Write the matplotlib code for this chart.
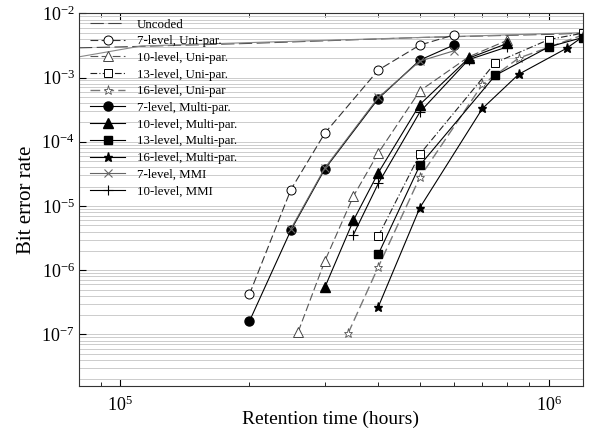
import matplotlib
matplotlib.use("Agg")
import matplotlib.pyplot as plt
from matplotlib.ticker import LogLocator, NullFormatter

plt.rcParams["font.family"] = ["Liberation Serif", "DejaVu Serif"]
plt.rcParams["mathtext.fontset"] = "stix"

# Uncoded reference (two traces at the top)
unc_x = [8e4, 1e5, 2e5, 5e5, 1e6, 1.2e6]
unc_y = [2.9e-3, 3.0e-3, 3.4e-3, 4.2e-3, 4.7e-3, 4.9e-3]
unc2_x = [8e4, 1.12e5, 2e5, 5e5, 1.2e6]
unc2_y = [2.1e-3, 3.1e-3, 3.5e-3, 4.2e-3, 5.0e-3]

# Uni-parameter
u7_x = [2e5, 2.5e5, 3e5, 4e5, 5e5, 6e5]
u7_y = [4.2e-7, 1.8e-5, 1.36e-4, 1.31e-3, 3.2e-3, 4.6e-3]
u10_x = [2.6e5, 3e5, 3.5e5, 4e5, 5e5, 6.5e5, 8e5]
u10_y = [1.1e-7, 1.39e-6, 1.43e-5, 6.7e-5, 6.2e-4, 2.1e-3, 3.8e-3]
u13_x = [4e5, 5e5, 7.5e5, 1e6, 1.2e6]
u13_y = [3.4e-6, 6.4e-5, 1.7e-3, 3.9e-3, 4.9e-3]
u16_x = [3.4e5, 4e5, 5e5, 7e5, 8.5e5, 1.2e6]
u16_y = [1.04e-7, 1.13e-6, 2.8e-5, 7.8e-4, 2.0e-3, 4.6e-3]

# Multi-parameter
m7_x = [2e5, 2.5e5, 3e5, 4e5, 5e5, 6e5]
m7_y = [1.6e-7, 4.2e-6, 3.76e-5, 4.7e-4, 1.87e-3, 3.2e-3]
m10_x = [3e5, 3.5e5, 4e5, 5e5, 6.5e5, 8e5]
m10_y = [5.4e-7, 6.0e-6, 3.3e-5, 3.8e-4, 2.0e-3, 3.4e-3]
m13_x = [4e5, 5e5, 7.5e5, 1e6, 1.2e6]
m13_y = [1.78e-6, 4.3e-5, 1.08e-3, 3.0e-3, 4.2e-3]
m16_x = [4e5, 5e5, 7e5, 8.5e5, 1.1e6, 1.2e6]
m16_y = [2.7e-7, 9.4e-6, 3.3e-4, 1.12e-3, 2.85e-3, 4.3e-3]

# MMI
mmi7_x = [2.5e5, 3e5, 4e5, 5e5, 6e5]
mmi7_y = [4.4e-6, 3.9e-5, 4.9e-4, 1.8e-3, 2.6e-3]
mmi10_x = [3.5e5, 4e5, 5e5, 6.5e5, 8e5]
mmi10_y = [3.6e-6, 2.25e-5, 2.9e-4, 1.9e-3, 3.0e-3]

fig = plt.figure(figsize=(5.89, 4.32), dpi=100)
ax = fig.add_axes([0.134, 0.1074, 0.8553, 0.8618])

lw = 0.8
dash = (0, (7, 3))
ax.plot(unc_x, unc_y, color="#444444", lw=lw, ls=(0, (12, 4)), label="Uncoded")
ax.plot(unc2_x, unc2_y, color="#888888", lw=lw)

ax.plot(u7_x, u7_y, color="#333333", lw=lw, ls=dash, marker="o", ms=6.5,
        mfc="white", mec="black", mew=0.7, label="7-level, Uni-par.")
ax.plot(u10_x, u10_y, color="#555555", lw=lw, ls=dash, marker="^", ms=6.5,
        mfc="white", mec="#444444", mew=0.7, label="10-level, Uni-par.")
ax.plot(u13_x, u13_y, color="#222222", lw=lw, ls=(0, (6, 2, 1, 2)), marker="s", ms=5.5,
        mfc="white", mec="black", mew=0.7, label="13-level, Uni-par.")
ax.plot(u16_x, u16_y, color="#777777", lw=1.0, ls=dash, marker="*", ms=6.5,
        mfc="white", mec="#555555", mew=0.6, label="16-level, Uni-par")

ax.plot(m7_x, m7_y, color="black", lw=lw, marker="o", ms=6.5, mfc="black",
        mec="black", label="7-level, Multi-par.")
ax.plot(m10_x, m10_y, color="black", lw=lw, marker="^", ms=6.5, mfc="black",
        mec="black", label="10-level, Multi-par.")
ax.plot(m13_x, m13_y, color="black", lw=lw, marker="s", ms=5.5, mfc="black",
        mec="black", label="13-level, Multi-par.")
ax.plot(m16_x, m16_y, color="black", lw=lw, marker="*", ms=6.5, mfc="black",
        mec="black", label="16-level, Multi-par.")

ax.plot(mmi7_x, mmi7_y, color="#666666", lw=lw, marker="x", ms=6,
        mew=0.8, label="7-level, MMI")
ax.plot(mmi10_x, mmi10_y, color="black", lw=lw, marker="+", ms=6.5,
        mew=0.8, label="10-level, MMI")

ax.set_xscale("log")
ax.set_yscale("log")
ax.set_xlim(8e4, 1.2e6)
ax.set_ylim(1.6e-8, 1e-2)

ax.yaxis.set_major_locator(LogLocator(base=10, numticks=20))
ax.yaxis.set_minor_locator(LogLocator(base=10, subs=range(2, 10), numticks=20))
ax.yaxis.set_minor_formatter(NullFormatter())
ax.xaxis.set_minor_locator(LogLocator(base=10, subs=range(2, 10), numticks=20))
ax.xaxis.set_minor_formatter(NullFormatter())

ax.grid(True, which="both", axis="y", color="#cccccc", lw=0.7)
ax.set_axisbelow(True)
ax.tick_params(which="both", direction="in", top=True, right=False)
ax.tick_params(which="major", length=5, labelsize=13)
ax.tick_params(axis="x", which="major", pad=7)
ax.tick_params(axis="y", which="major", pad=3)
ax.tick_params(which="minor", length=3)
ax.tick_params(axis="y", which="minor", length=0)
for s in ax.spines.values():
    s.set_color("#333333")

ax.set_xlabel("Retention time (hours)", fontsize=14, labelpad=-3)
ax.set_ylabel("Bit error rate", fontsize=15, labelpad=4)

ax.legend(loc="upper left", frameon=False, fontsize=9.3, handlelength=2.7,
          labelspacing=0.36, borderaxespad=0.0, handletextpad=0.9,
          bbox_to_anchor=(0.012, 1.0))

fig.savefig("out.png", dpi=100)
